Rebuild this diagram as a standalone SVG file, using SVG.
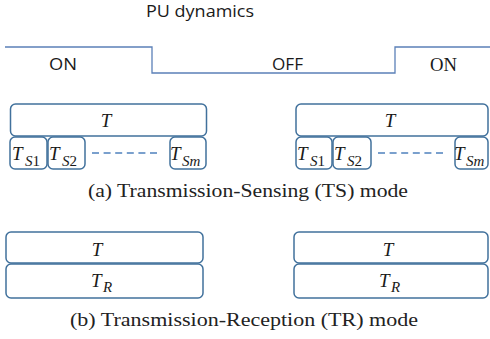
<svg xmlns="http://www.w3.org/2000/svg" width="490" height="339" viewBox="0 0 490 339">
<style>
.box{fill:#fff;stroke:#41719C;stroke-width:1.5}
.pu{fill:none;stroke:#5B80B8;stroke-width:1.3}
.dash{fill:none;stroke:#4F81BD;stroke-width:1.5;stroke-dasharray:7 4.6}
.lbl{font-family:"Open Sans","Liberation Sans",sans-serif;font-size:16px;fill:#1a1a1a}
.ser{font-family:"Liberation Serif","Times New Roman",serif;font-size:18px;fill:#1a1a1a}
.m{font-family:"Liberation Serif","DejaVu Serif",serif;font-style:italic;font-size:19px;fill:#1a1a1a}
.s{font-family:"Liberation Serif","DejaVu Serif",serif;font-size:15px;fill:#1a1a1a}
.i{font-style:italic}
.cap{font-family:"Liberation Serif","Times New Roman",serif;font-size:18px;fill:#222}
</style>
<g id="pu-dynamics">
<text class="lbl" x="146" y="17" textLength="108" lengthAdjust="spacingAndGlyphs">PU dynamics</text>
<path class="pu" d="M5,47 H152 V73 H395 V47 H490"/>
<text class="lbl" x="49" y="70" textLength="28" lengthAdjust="spacingAndGlyphs">ON</text>
<text class="lbl" x="272" y="70" textLength="31" lengthAdjust="spacingAndGlyphs">OFF</text>
<text class="ser" x="430" y="71" textLength="27" lengthAdjust="spacingAndGlyphs">ON</text>
</g>
<g id="ts-left">
<rect class="box" x="10.5" y="104" width="196" height="32" rx="5"/>
<text class="m" x="106" y="127" text-anchor="middle">T</text>
<rect class="box" x="10" y="137" width="37" height="32" rx="5"/>
<text class="m" x="12" y="160">T</text><text class="s" x="25" y="166"><tspan class="i">S</tspan>1</text>
<rect class="box" x="48" y="137" width="37" height="32" rx="5"/>
<text class="m" x="49" y="160">T</text><text class="s" x="62" y="166"><tspan class="i">S</tspan>2</text>
<rect class="box" x="170" y="137" width="36" height="32" rx="5"/>
<text class="m" x="170" y="160">T</text><text class="s i" x="182" y="166">Sm</text>
</g>
<g id="ts-right">
<rect class="box" x="296" y="104" width="192" height="32" rx="5"/>
<text class="m" x="390" y="127" text-anchor="middle">T</text>
<rect class="box" x="296" y="137" width="36" height="32" rx="5"/>
<text class="m" x="297" y="160">T</text><text class="s" x="310" y="166"><tspan class="i">S</tspan>1</text>
<rect class="box" x="333" y="137" width="38" height="32" rx="5"/>
<text class="m" x="334" y="160">T</text><text class="s" x="347" y="166"><tspan class="i">S</tspan>2</text>
<rect class="box" x="455" y="137" width="33" height="32" rx="5"/>
<text class="m" x="454" y="160">T</text><text class="s i" x="466" y="166">Sm</text>
</g>
<g id="connectors">
<line class="dash" x1="92" y1="153" x2="161" y2="153"/>
<line class="dash" x1="378" y1="153" x2="443" y2="153"/>
</g>
<text class="cap" x="88" y="197" textLength="320" lengthAdjust="spacingAndGlyphs">(a)  Transmission-Sensing (TS) mode</text>
<g id="tr-left">
<rect class="box" x="6" y="232" width="197" height="31" rx="5"/>
<text class="m" x="97" y="256" text-anchor="middle">T</text>
<rect class="box" x="6" y="264" width="197" height="34" rx="5"/>
<text class="m" x="91" y="287">T</text><text class="s i" x="103" y="292">R</text>
</g>
<g id="tr-right">
<rect class="box" x="294" y="232" width="194" height="31" rx="5"/>
<text class="m" x="388" y="256" text-anchor="middle">T</text>
<rect class="box" x="294" y="264" width="194" height="34" rx="5"/>
<text class="m" x="379" y="287">T</text><text class="s i" x="391" y="292">R</text>
</g>
<text class="cap" x="70" y="326" textLength="348" lengthAdjust="spacingAndGlyphs">(b)  Transmission-Reception (TR) mode</text>
</svg>
